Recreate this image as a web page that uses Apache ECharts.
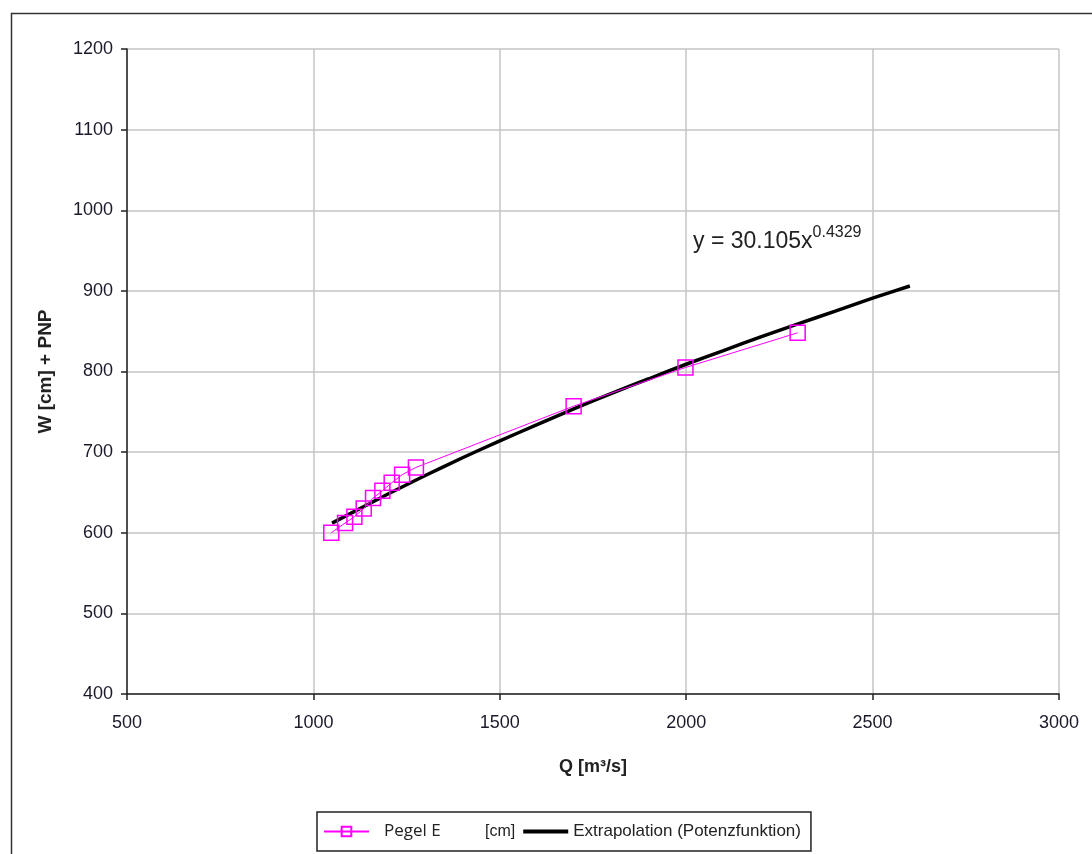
<!DOCTYPE html>
<html><head><meta charset="utf-8">
<script src="https://cdn.jsdelivr.net/npm/echarts@6/dist/echarts.min.js"></script>
<style>html,body{margin:0;padding:0;background:#fff}#c{width:1092px;height:854px}</style>
</head><body><div id="c"></div>
<script>
// Observed data: Pegel E
const pegelQ = [1048, 1085, 1110, 1135, 1160, 1185, 1210, 1238, 1275, 1698, 1998, 2299];
const pegelW = [600, 612, 620, 630, 643, 652, 662, 672, 681, 757, 805, 848];
// Extrapolation curve
const extQ = [1050, 1100, 1200, 1300, 1400, 1500, 1600, 1700, 1800, 1900, 2000, 2100, 2200, 2300, 2400, 2500, 2600];
const extW = [612, 624, 648, 671, 693, 714, 734, 754, 773, 791, 809, 826, 843, 859, 875, 891, 906];
const xTicks = [500, 1000, 1500, 2000, 2500, 3000];
const yTicks = [400, 500, 600, 700, 800, 900, 1000, 1100, 1200];

const chart = echarts.init(document.getElementById('c'));
const F = 'Liberation Sans, Arial, sans-serif';
chart.setOption({
  animation: false,
  backgroundColor: '#fff',
  grid: {left: 127, right: 33, top: 49, bottom: 160},
  xAxis: {
    type: 'value', min: xTicks[0], max: xTicks[xTicks.length-1], interval: 500,
    name: 'Q [m³/s]', nameLocation: 'middle', nameGap: 64,
    nameTextStyle: {fontFamily: F, fontWeight: 'bold', fontSize: 18, color: '#222'},
    axisLine: {show: true, onZero: false, lineStyle: {color: '#222', width: 1.5}},
    axisTick: {show: true, length: 6, lineStyle: {color: '#222', width: 1.5}},
    axisLabel: {fontFamily: F, fontSize: 18, color: '#1a1a2a', margin: 20, formatter: v => String(v)},
    splitLine: {show: true, lineStyle: {color: '#c4c4c4', width: 1.5}}
  },
  yAxis: {
    type: 'value', min: yTicks[0], max: yTicks[yTicks.length-1], interval: 100,
    name: 'W [cm] + PNP', nameLocation: 'middle', nameGap: 72,
    nameTextStyle: {fontFamily: F, fontWeight: 'bold', fontSize: 19, color: '#222'},
    axisLine: {show: true, onZero: false, lineStyle: {color: '#222', width: 1.5}},
    axisTick: {show: true, length: 6, lineStyle: {color: '#222', width: 1.5}},
    axisLabel: {fontFamily: F, fontSize: 18, color: '#1a1a2a', margin: 14, formatter: v => String(v)},
    splitLine: {show: true, lineStyle: {color: '#c4c4c4', width: 1.5}}
  },
  legend: {
    left: 317, top: 812, orient: 'horizontal',
    borderColor: '#222', borderWidth: 1.5, padding: [11, 10, 11, 6],
    itemWidth: 45, itemHeight: 12, itemGap: 6,
    formatter: function (n) {
      if (n === 'Pegel E') return '{a|Pegel E}{b|[cm]}';
      return n;
    },
    data: [
      'Pegel E',
      {name: 'Extrapolation (Potenzfunktion)',
       itemStyle: {color: 'rgba(0,0,0,0)', borderWidth: 0},
       lineStyle: {color: '#000', width: 4}}
    ],
    textStyle: {
      fontFamily: F, fontSize: 17, color: '#222',
      rich: {
        a: {fontFamily: 'Open Sans, Noto Sans, sans-serif', fontSize: 17, color: '#222', width: 101, padding: [0, 0, 0, 10]},
        b: {fontFamily: F, fontSize: 16, color: '#222'}
      }
    }
  },
  graphic: [
    {type: 'rect', left: 9, top: 11, shape: {width: 1200, height: 1000},
     style: {fill: 'none', stroke: '#333', lineWidth: 1.5}, z: -10, silent: true},
    {type: 'text', left: 693, top: 225, z: 10,
     style: {text: '{m|y = 30.105x}{s|0.4329}', fill: '#222',
       rich: {m: {fontFamily: F, fontSize: 23, color: '#222', verticalAlign: 'bottom'},
              s: {fontFamily: F, fontSize: 16, color: '#222', verticalAlign: 'top', padding: [0, 0, 12, 0]}}}}
  ],
  series: [
    {
      name: 'Pegel E', type: 'line',
      data: pegelQ.map((q, i) => [q, pegelW[i]]),
      symbol: 'rect', symbolSize: 15,
      lineStyle: {color: '#ff00ff', width: 1},
      itemStyle: {color: 'rgba(255,255,255,0)', borderColor: '#ff00ff', borderWidth: 1.5},
      z: 3
    },
    {
      name: 'Extrapolation (Potenzfunktion)', type: 'line',
      data: extQ.map((q, i) => [q, extW[i]]),
      symbol: 'none', smooth: 0.3,
      lineStyle: {color: '#000', width: 3.5},
      itemStyle: {color: '#000'},
      z: 2
    }
  ]
});
</script></body></html>
